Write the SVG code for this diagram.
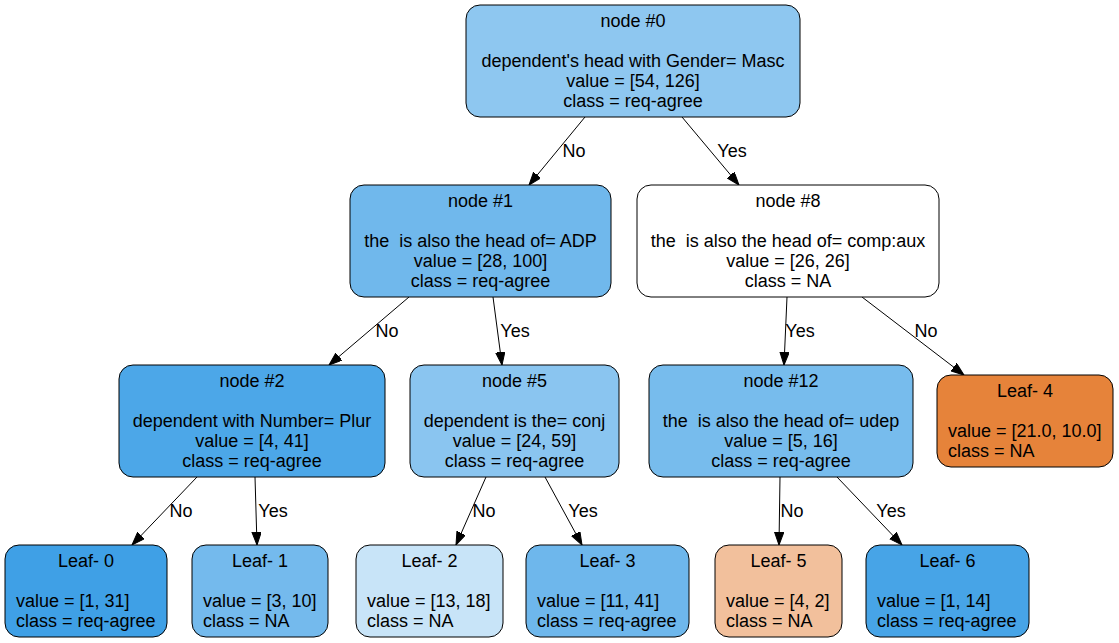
<svg xmlns="http://www.w3.org/2000/svg" width="1119" height="643" viewBox="0 0 1119 643">
<style>
.box{stroke:#000;stroke-width:1}
text{font-family:"Liberation Sans",Arial,Helvetica,sans-serif;font-size:18px;fill:#000;white-space:pre}
.c{text-anchor:middle}
.e line{stroke:#000;stroke-width:1;marker-end:url(#ah)}
</style>
<defs>
<marker id="ah" markerUnits="userSpaceOnUse" markerWidth="14" markerHeight="10" refX="13" refY="4.7" orient="auto">
<path d="M0,0 L13,4.7 L0,9.4 z" fill="#000" stroke="#000" stroke-width="1"/>
</marker>
</defs>
<rect width="1119" height="643" fill="#fff"/>
<g id="connectors" class="e">
<line x1="585" y1="117" x2="529" y2="185"/>
<line x1="682" y1="117" x2="739" y2="185"/>
<line x1="409" y1="297" x2="329" y2="365"/>
<line x1="493" y1="297" x2="502" y2="365"/>
<line x1="787" y1="297" x2="784" y2="365"/>
<line x1="862" y1="297" x2="964" y2="375"/>
<line x1="197" y1="477" x2="132" y2="545"/>
<line x1="255" y1="477" x2="257" y2="545"/>
<line x1="486" y1="477" x2="456" y2="545"/>
<line x1="545" y1="477" x2="582" y2="545"/>
<line x1="780" y1="477" x2="779" y2="545"/>
<line x1="837" y1="477" x2="902" y2="545"/>
<text x="574" y="157" class="c">No</text>
<text x="732" y="157" class="c">Yes</text>
<text x="387" y="337" class="c">No</text>
<text x="515" y="337" class="c">Yes</text>
<text x="800" y="337" class="c">Yes</text>
<text x="926" y="337" class="c">No</text>
<text x="181" y="517" class="c">No</text>
<text x="273" y="517" class="c">Yes</text>
<text x="484" y="517" class="c">No</text>
<text x="583" y="517" class="c">Yes</text>
<text x="792" y="517" class="c">No</text>
<text x="891" y="517" class="c">Yes</text>
</g>
<g id="node0">
<rect class="box" x="466" y="5" width="334" height="112" rx="14" fill="#8ec7f0"/>
<text x="633" y="27" class="c">node #0</text>
<text x="633" y="67" class="c">dependent's head with Gender= Masc</text>
<text x="633" y="87" class="c">value = [54, 126]</text>
<text x="633" y="107" class="c">class = req-agree</text>
</g>
<g id="node1">
<rect class="box" x="350" y="185" width="261" height="112" rx="14" fill="#70b8ec"/>
<text x="480.5" y="207" class="c">node #1</text>
<text x="480.5" y="247" class="c">the  is also the head of= ADP</text>
<text x="480.5" y="267" class="c">value = [28, 100]</text>
<text x="480.5" y="287" class="c">class = req-agree</text>
</g>
<g id="node8">
<rect class="box" x="637" y="185" width="302" height="112" rx="14" fill="#ffffff"/>
<text x="788" y="207" class="c">node #8</text>
<text x="788" y="247" class="c">the  is also the head of= comp:aux</text>
<text x="788" y="267" class="c">value = [26, 26]</text>
<text x="788" y="287" class="c">class = NA</text>
</g>
<g id="node2">
<rect class="box" x="119" y="365" width="266" height="112" rx="14" fill="#4ca7e8"/>
<text x="252" y="387" class="c">node #2</text>
<text x="252" y="427" class="c">dependent with Number= Plur</text>
<text x="252" y="447" class="c">value = [4, 41]</text>
<text x="252" y="467" class="c">class = req-agree</text>
</g>
<g id="node5">
<rect class="box" x="410" y="365" width="209" height="112" rx="14" fill="#8ac5f0"/>
<text x="514.5" y="387" class="c">node #5</text>
<text x="514.5" y="427" class="c">dependent is the= conj</text>
<text x="514.5" y="447" class="c">value = [24, 59]</text>
<text x="514.5" y="467" class="c">class = req-agree</text>
</g>
<g id="node12">
<rect class="box" x="649" y="365" width="264" height="112" rx="14" fill="#77bced"/>
<text x="781" y="387" class="c">node #12</text>
<text x="781" y="427" class="c">the  is also the head of= udep</text>
<text x="781" y="447" class="c">value = [5, 16]</text>
<text x="781" y="467" class="c">class = req-agree</text>
</g>
<g id="leaf4">
<rect class="box" x="937" y="375" width="176" height="92" rx="14" fill="#e6833a"/>
<text x="1025" y="397" class="c">Leaf- 4</text>
<text x="948" y="437">value = [21.0, 10.0]</text>
<text x="948" y="457">class = NA</text>
</g>
<g id="leaf0">
<rect class="box" x="5" y="545" width="162" height="92" rx="14" fill="#3fa0e6"/>
<text x="86" y="567" class="c">Leaf- 0</text>
<text x="16" y="607">value = [1, 31]</text>
<text x="16" y="627">class = req-agree</text>
</g>
<g id="leaf1">
<rect class="box" x="192" y="545" width="136" height="92" rx="14" fill="#74baed"/>
<text x="260" y="567" class="c">Leaf- 1</text>
<text x="203" y="607">value = [3, 10]</text>
<text x="203" y="627">class = NA</text>
</g>
<g id="leaf2">
<rect class="box" x="356" y="545" width="147" height="92" rx="14" fill="#c8e4f8"/>
<text x="429.5" y="567" class="c">Leaf- 2</text>
<text x="367" y="607">value = [13, 18]</text>
<text x="367" y="627">class = NA</text>
</g>
<g id="leaf3">
<rect class="box" x="526" y="545" width="163" height="92" rx="14" fill="#6eb7ec"/>
<text x="607.5" y="567" class="c">Leaf- 3</text>
<text x="537" y="607">value = [11, 41]</text>
<text x="537" y="627">class = req-agree</text>
</g>
<g id="leaf5">
<rect class="box" x="715" y="545" width="127" height="92" rx="14" fill="#f2c09c"/>
<text x="778.5" y="567" class="c">Leaf- 5</text>
<text x="726" y="607">value = [4, 2]</text>
<text x="726" y="627">class = NA</text>
</g>
<g id="leaf6">
<rect class="box" x="866" y="545" width="163" height="92" rx="14" fill="#47a4e7"/>
<text x="947.5" y="567" class="c">Leaf- 6</text>
<text x="877" y="607">value = [1, 14]</text>
<text x="877" y="627">class = req-agree</text>
</g>
</svg>
